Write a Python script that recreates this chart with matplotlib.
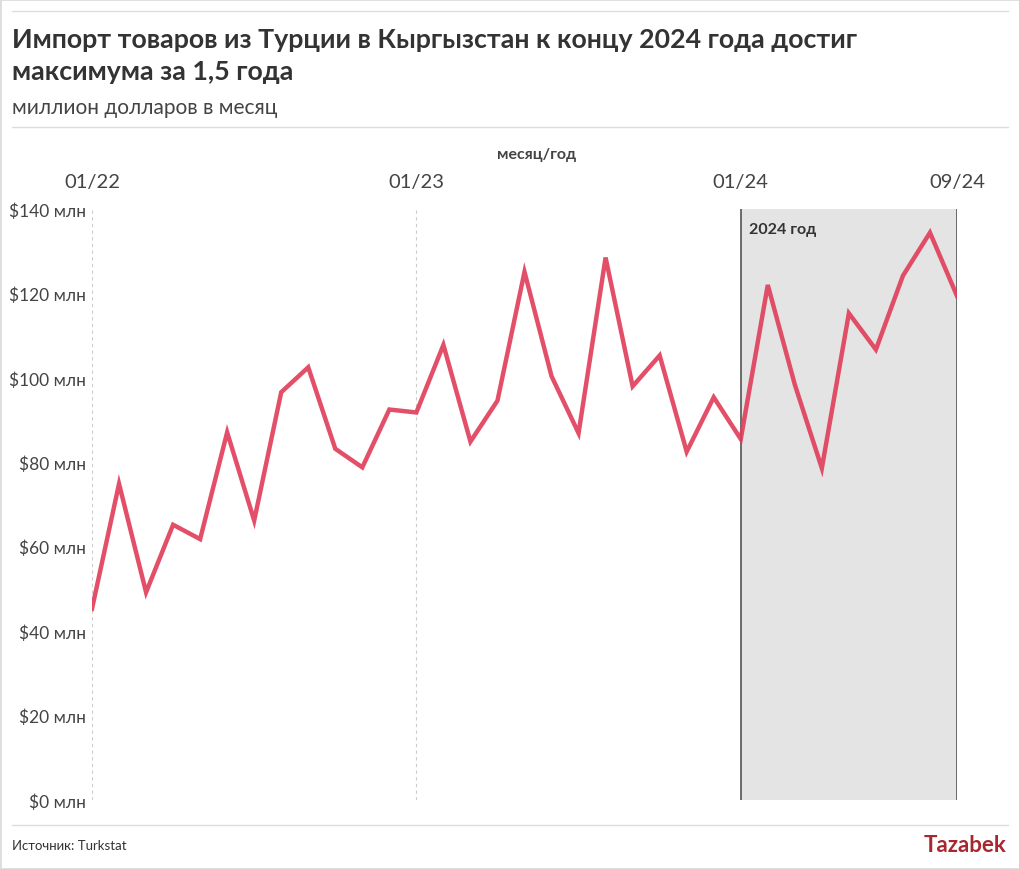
import matplotlib
matplotlib.use("Agg")
import matplotlib.pyplot as plt
import numpy as np

plt.rcParams["font.family"] = ["Lato", "DejaVu Sans"]

# monthly imports from Turkey, 01/22 .. 09/24, million USD
values = [
    45.3, 74.9, 49.2, 65.2, 61.8, 87.1, 66.2, 96.6, 102.5, 83.2, 78.8, 92.5,
    91.8, 107.8, 84.9, 94.6, 125.1, 100.4, 86.9, 128.5, 98.0, 105.3, 82.5, 95.4,
    85.5, 122.0, 98.4, 78.6, 115.3, 106.7, 124.2, 134.4, 119.4,
]
tick_pos = [0, 12, 24, 32]
tick_labels = ["01/22", "01/23", "01/24", "09/24"]
y_ticks = [0, 20, 40, 60, 80, 100, 120, 140]
shade_start, shade_end = 24, 32

W, H = 1020, 870
fig = plt.figure(figsize=(W / 100, H / 100), dpi=100)
fig.patch.set_facecolor("white")

def px(x, y):
    return x / W, 1 - y / H

ax = fig.add_axes([92 / W, 69 / H, (957 - 92) / W, (801 - 210) / H])
x = np.arange(len(values))

ax.axvspan(shade_start, shade_end, color="#e4e4e4", zorder=0, lw=0)
ax.axvline(shade_start, color="#555555", lw=1.2, zorder=1)
ax.axvline(shade_end, color="#555555", lw=1.2, zorder=1)
for t in tick_pos[:2]:
    ax.axvline(t, color="#cccccc", lw=0.8, ls=(0, (3, 3)), zorder=0.5)

ax.plot(x, values, color="#e03c58", lw=3.2, alpha=0.9, zorder=3,
        solid_joinstyle="miter")

ax.set_xlim(0, 32)
ax.set_ylim(0, 140)
for s in ax.spines.values():
    s.set_visible(False)
ax.set_xticks(tick_pos)
ax.set_xticklabels(tick_labels)
ax.xaxis.tick_top()
ax.tick_params(axis="x", length=0, pad=14, labelsize=14.5, labelcolor="#444444")
ax.set_yticks(y_ticks)
ax.set_yticklabels([f"${v} млн" for v in y_ticks])
ax.tick_params(axis="y", length=0, pad=4, labelsize=12.5, labelcolor="#444444")
ax.set_facecolor("none")

ax.text(24.3, 137, "2024 год", fontsize=11.5, fontweight="bold",
        color="#333333", va="top", ha="left")

# header
fig.text(*px(12, 40), "Импорт товаров из Турции в Кыргызстан к концу 2024 года достиг",
         fontsize=19.3, fontweight="bold", color="#333333", va="center")
fig.text(*px(12, 72), "максимума за 1,5 года",
         fontsize=19.3, fontweight="bold", color="#333333", va="center")
fig.text(*px(12, 108), "миллион долларов в месяц",
         fontsize=15, color="#444444", va="center")
fig.text(*px(537, 155), "месяц/год", fontsize=11.5, fontweight="bold",
         color="#444444", ha="center", va="center")

# footer
fig.text(*px(12, 846), "Источник: Turkstat", fontsize=9.5, color="#333333",
         va="center")
fig.text(*px(1006, 846), "Tazabek", fontsize=16, fontweight="bold",
         color="#a8262d", ha="right", va="center")

for yy in (12, 128, 826):
    fig.add_artist(plt.Line2D([12 / W, 1008 / W], [1 - yy / H] * 2,
                              color="#dddddd", lw=1))
fig.add_artist(plt.Rectangle((0, 0), 1, 1, fill=False, ec="#dddddd", lw=2,
                             transform=fig.transFigure))

fig.savefig("out.png", dpi=100)
